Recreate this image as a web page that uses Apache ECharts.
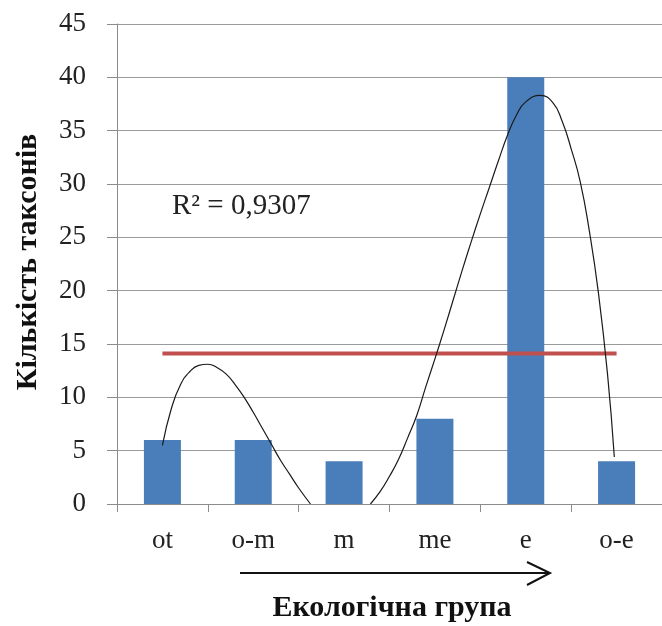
<!DOCTYPE html>
<html>
<head>
<meta charset="utf-8">
<script src="https://cdn.jsdelivr.net/npm/echarts@6/dist/echarts.min.js"></script>
<style>
  html, body { margin: 0; padding: 0; background: #fff; }
  #main { width: 662px; height: 626px; }
</style>
</head>
<body>
<div id="main"></div>
<script>
var categories = ['ot', 'o-m', 'm', 'me', 'e', 'o-e'];
var counts = [6, 6, 4, 8, 40, 4];
var meanLevel = 14.1;
// trend curve: [category position, value]
var trendLeft = [[0, 5.5], [0.1, 9.0], [0.2, 11.2], [0.3, 12.4], [0.4, 13.0], [0.5, 13.1],
  [0.6, 12.8], [0.7, 12.2], [0.8, 11.2], [0.9, 10.0], [1.0, 8.6], [1.1, 7.1], [1.2, 5.6],
  [1.3, 4.1], [1.4, 2.8], [1.5, 1.5], [1.63, 0]];
var trendRight = [[2.29, 0], [2.4, 1.2], [2.5, 2.6], [2.6, 4.2], [2.7, 6.2], [2.8, 8.3],
  [2.9, 11.0], [3.0, 13.6], [3.1, 16.3], [3.2, 19.1], [3.3, 21.9], [3.4, 24.6], [3.5, 27.2],
  [3.6, 29.7], [3.7, 32.2], [3.8, 34.6], [3.9, 36.5], [4.0, 37.7], [4.16, 38.3],
  [4.3, 37.6], [4.4, 35.9], [4.5, 33.3], [4.6, 30.2], [4.7, 25.6], [4.8, 19.8], [4.9, 12.2],
  [4.975, 4.4]];
var r2Text = 'R² = 0,9307';

var serif = "'Liberation Serif', 'Times New Roman', serif";
var myChart = echarts.init(document.getElementById('main'));

option = {
    animation: false,
    grid: { left: 117, top: 24, width: 553, bottom: 122 },
    xAxis: [
        {
            type: 'category',
            data: categories,
            axisLine: { lineStyle: { color: '#8c8c8c' } },
            axisTick: { show: true, length: 8, lineStyle: { color: '#8c8c8c' } },
            axisLabel: { color: '#222', fontFamily: serif, fontSize: 27, margin: 23 }
        },
        {
            type: 'value',
            min: -0.5,
            max: 5.5,
            show: false
        }
    ],
    yAxis: {
        type: 'value',
        min: 0,
        max: 45,
        interval: 5,
        axisLine: { show: true, onZero: false, lineStyle: { color: '#8c8c8c' } },
        axisTick: { show: true, length: 10, lineStyle: { color: '#8c8c8c' } },
        axisLabel: { color: '#222', fontFamily: serif, fontSize: 27, margin: 31 },
        splitLine: { lineStyle: { color: '#9a9a9a', width: 1.2 } }
    },
    series: [
        {
            type: 'bar',
            data: counts,
            barWidth: 37,
            itemStyle: { color: '#4a7ebb' }
        },
        {
            type: 'line',
            data: categories.map(function () { return meanLevel; }),
            symbol: 'none',
            lineStyle: { color: '#c0504d', width: 4 }
        },
        {
            type: 'line',
            xAxisIndex: 1,
            data: trendLeft,
            smooth: true,
            symbol: 'none',
            lineStyle: { color: '#1a1a1a', width: 1.2 }
        },
        {
            type: 'line',
            xAxisIndex: 1,
            data: trendRight,
            smooth: true,
            symbol: 'none',
            lineStyle: { color: '#1a1a1a', width: 1.2 }
        }
    ],
    graphic: [
        {
            type: 'text', left: 172, top: 192,
            style: { text: r2Text, fill: '#222', font: '29px ' + serif }
        },
        {
            type: 'text', x: 28, y: 262, rotation: Math.PI / 2,
            style: { text: 'Кількість таксонів', fill: '#111', font: 'bold 30px ' + serif,
                     align: 'center', verticalAlign: 'middle' }
        },
        {
            type: 'text', x: 392, y: 608,
            style: { text: 'Екологічна група', fill: '#111', font: 'bold 30px ' + serif,
                     align: 'center', verticalAlign: 'middle' }
        },
        {
            type: 'line',
            shape: { x1: 240, y1: 573, x2: 550, y2: 573 },
            style: { stroke: '#111', lineWidth: 2 }
        },
        {
            type: 'polyline',
            shape: { points: [[527, 562], [550, 573], [527, 585]] },
            style: { stroke: '#111', lineWidth: 2, fill: null }
        }
    ]
};
myChart.setOption(option);
</script>
</body>
</html>
